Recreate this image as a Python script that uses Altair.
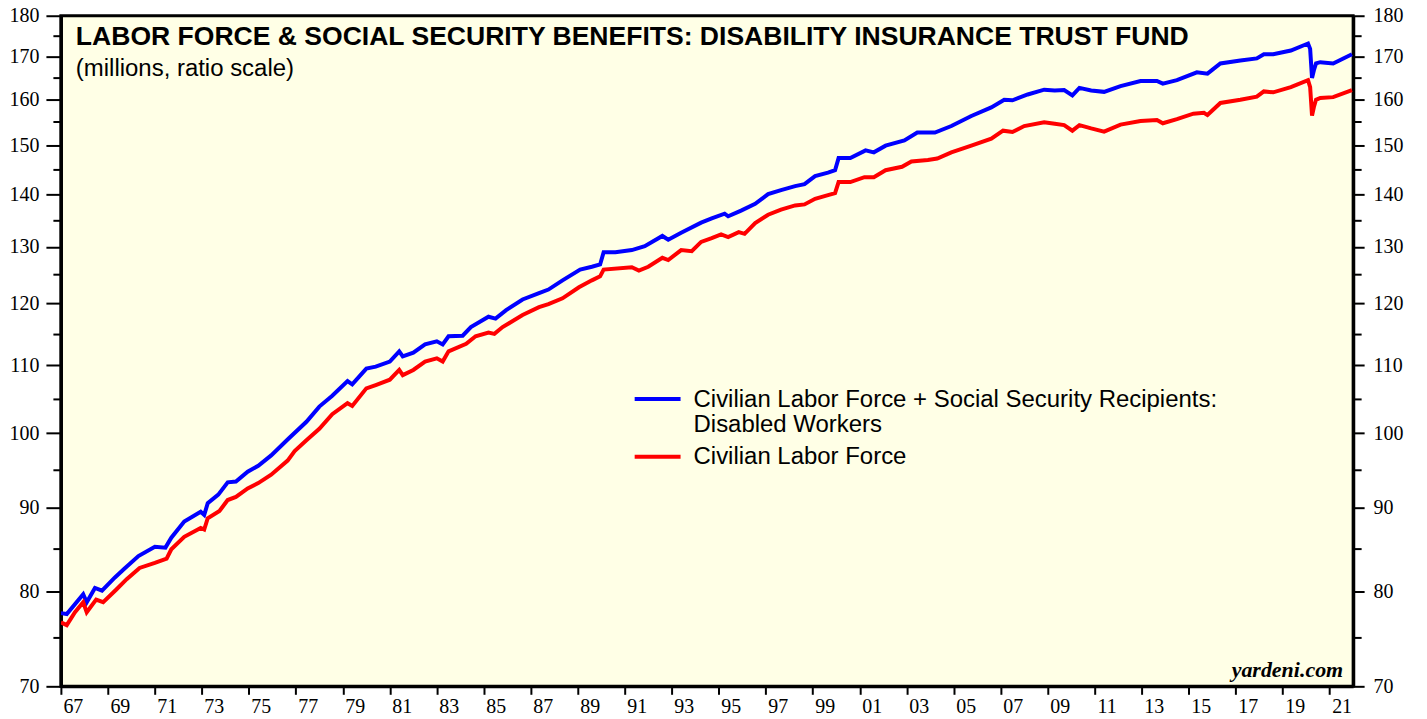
import altair as alt
import pandas as pd

# ---- data (millions) ----
red_t = [1967.0, 1967.25, 1967.6, 1967.95, 1968.1, 1968.5, 1968.8, 1969.35, 1969.8, 1970.35,
         1971.0, 1971.5, 1971.7, 1972.25, 1972.95, 1973.1, 1973.25, 1973.75, 1974.1, 1974.45,
         1974.95, 1975.4, 1975.95, 1976.65, 1976.95, 1977.45, 1978.0, 1978.55, 1979.2, 1979.4,
         1980.0, 1980.4, 1981.0, 1981.4, 1981.55, 1982.0, 1982.5, 1983.0, 1983.25, 1983.5,
         1984.25, 1984.65, 1985.2, 1985.45, 1985.8, 1986.65, 1987.35, 1987.75, 1988.35, 1989.05,
         1989.6, 1989.95, 1990.1, 1991.3, 1991.6, 1992.0, 1992.6, 1992.85, 1993.4, 1993.85,
         1994.25, 1994.7, 1995.1, 1995.4, 1995.85, 1996.1, 1996.55, 1997.1, 1997.65, 1998.25,
         1998.65, 1999.1, 1999.65, 1999.95, 2000.1, 2000.6, 2001.2, 2001.6, 2002.1, 2002.8,
         2003.2, 2003.9, 2004.3, 2004.9, 2005.75, 2006.6, 2007.1, 2007.5, 2008.0, 2008.85,
         2009.3, 2009.7, 2010.05, 2010.35, 2010.85, 2011.4, 2012.1, 2012.95, 2013.65, 2013.9,
         2014.5, 2015.2, 2015.65, 2015.8, 2016.35, 2017.2, 2017.9, 2018.2, 2018.6, 2019.35,
         2020.08, 2020.17, 2020.25, 2020.33, 2020.42, 2020.6, 2021.15, 2021.95]
red_v = [76.6, 76.3, 77.7, 78.8, 77.7, 79.1, 78.8, 80.2, 81.4, 82.7,
         83.3, 83.8, 84.9, 86.4, 87.5, 87.3, 88.7, 89.6, 91.0, 91.4,
         92.5, 93.2, 94.3, 96.2, 97.5, 99.0, 100.6, 102.7, 104.3, 103.9,
         106.5, 107.0, 107.8, 109.3, 108.5, 109.3, 110.6, 111.1, 110.6, 112.2,
         113.4, 114.6, 115.2, 115.0, 116.1, 118.1, 119.4, 119.9, 120.9, 122.8,
         124.0, 124.7, 125.9, 126.3, 125.7, 126.4, 128.0, 127.6, 129.4, 129.2,
         130.9, 131.6, 132.3, 131.8, 132.7, 132.4, 134.4, 136.0, 137.0, 137.8,
         138.0, 139.1, 139.8, 140.2, 142.4, 142.4, 143.4, 143.4, 144.8, 145.5,
         146.6, 146.9, 147.2, 148.5, 149.9, 151.4, 153.1, 152.8, 154.1, 154.9,
         154.6, 154.3, 153.1, 154.3, 153.6, 152.9, 154.4, 155.2, 155.4, 154.7,
         155.6, 156.8, 157.0, 156.5, 159.2, 159.9, 160.6, 161.8, 161.6, 162.8,
         164.4, 162.8, 156.4, 158.3, 159.9, 160.3, 160.5, 162.1]

blue_t = [1967.0, 1967.25, 1967.95, 1968.1, 1968.45, 1968.75, 1969.3, 1969.7, 1970.3, 1971.0,
          1971.45, 1971.7, 1972.25, 1972.95, 1973.1, 1973.25, 1973.7, 1974.1, 1974.45, 1974.95,
          1975.4, 1975.95, 1976.65, 1977.45, 1978.0, 1978.55, 1979.2, 1979.4, 1980.0, 1980.4,
          1981.0, 1981.4, 1981.55, 1982.0, 1982.5, 1983.0, 1983.25, 1983.5, 1984.1, 1984.45,
          1985.2, 1985.5, 1985.95, 1986.65, 1987.35, 1987.75, 1988.35, 1989.1, 1989.6, 1989.95,
          1990.1, 1990.6, 1991.3, 1991.85, 1992.6, 1992.85, 1993.4, 1994.25, 1994.7, 1995.25,
          1995.4, 1995.95, 1996.55, 1997.1, 1997.65, 1998.25, 1998.65, 1999.1, 1999.65, 1999.95,
          2000.1, 2000.6, 2001.25, 2001.6, 2002.1, 2002.9, 2003.45, 2004.2, 2004.9, 2005.75,
          2006.6, 2007.15, 2007.5, 2008.15, 2008.85, 2009.3, 2009.7, 2010.05, 2010.35, 2010.85,
          2011.4, 2012.1, 2012.95, 2013.65, 2013.9, 2014.5, 2015.35, 2015.8, 2016.35, 2017.2,
          2017.9, 2018.2, 2018.6, 2019.35, 2020.08, 2020.17, 2020.25, 2020.33, 2020.42, 2020.6,
          2021.15, 2021.95]
blue_v = [77.6, 77.5, 79.7, 78.8, 80.4, 80.1, 81.6, 82.6, 84.1, 85.2,
          85.1, 86.3, 88.3, 89.5, 89.1, 90.6, 91.7, 93.3, 93.4, 94.7,
          95.5, 96.9, 99.1, 101.6, 103.8, 105.4, 107.6, 107.1, 109.5, 109.8,
          110.6, 112.2, 111.4, 112.0, 113.3, 113.8, 113.3, 114.6, 114.7, 116.1,
          117.8, 117.5, 118.9, 120.7, 121.8, 122.4, 124.0, 125.9, 126.4, 126.8,
          129.0, 129.0, 129.4, 130.1, 132.0, 131.3, 132.6, 134.5, 135.3, 136.2,
          135.7, 136.8, 138.1, 140.0, 140.8, 141.6, 142.0, 143.6, 144.3, 144.8,
          147.3, 147.3, 148.9, 148.5, 149.9, 151.0, 152.7, 152.7, 154.1, 156.3,
          158.2, 159.9, 159.8, 161.1, 162.2, 162.0, 162.1, 160.9, 162.6, 162.0,
          161.7, 163.0, 164.2, 164.2, 163.6, 164.4, 166.2, 165.9, 168.3, 169.0,
          169.5, 170.5, 170.5, 171.4, 173.1, 171.8, 164.9, 166.7, 168.3, 168.6,
          168.3, 170.5]

BLUE_NAME = "Civilian Labor Force + Social Security Recipients: Disabled Workers"
RED_NAME = "Civilian Labor Force"
legend_lines_blue = ["Civilian Labor Force + Social Security Recipients:", "Disabled Workers"]
legend_line_red = "Civilian Labor Force"

title_text = "LABOR FORCE & SOCIAL SECURITY BENEFITS: DISABILITY INSURANCE TRUST FUND"
subtitle_text = "(millions, ratio scale)"
source_text = "yardeni.com"

year_ticks = list(range(1967, 2023))
major_y = [70, 80, 90, 100, 110, 120, 130, 140, 150, 160, 170, 180]
minor_y = [75, 85, 95, 105, 115, 125, 135, 145, 155, 165, 175]

df = pd.concat([
    pd.DataFrame({"t": blue_t, "v": blue_v, "s": BLUE_NAME}),
    pd.DataFrame({"t": red_t, "v": red_v, "s": RED_NAME}),
], ignore_index=True)

W, H = 1295, 672
SERIF = "Liberation Serif"
SANS = "Liberation Sans"

xscale = alt.Scale(domain=[1967, 2022], nice=False, zero=False)
yscale = alt.Scale(type="log", domain=[70, 180], nice=False)

x_axis = alt.Axis(
    values=year_ticks,
    labelExpr="(datum.value % 2 == 1 && datum.value < 2022) ? substring(toString(datum.value), 2, 4) : ''",
    title=None, grid=False, tickSize=8, tickWidth=2, tickColor="black",
    domainColor="black", domainWidth=3, labelFont=SERIF, labelFontSize=20,
    labelColor="black", labelOffset=12, labelPadding=2, labelOverlap=False,
    labelFlush=False, labelBound=False,
)


def yaxis(orient, values, size, labels, pad):
    kw = dict(orient=orient, values=values, title=None, grid=False, tickSize=size,
              tickWidth=2, tickColor="black", domainColor="black", domainWidth=3,
              labels=labels)
    if labels:
        kw.update(labelFont=SERIF, labelFontSize=20, labelColor="black",
                  labelPadding=pad, labelOverlap=False, labelFlush=False)
    return alt.Axis(**kw)


lines = alt.Chart(df).mark_line(strokeWidth=4, clip=True).encode(
    x=alt.X("t:Q", scale=xscale, axis=x_axis),
    y=alt.Y("v:Q", scale=yscale, axis=yaxis("left", major_y, 15, True, 7)),
    color=alt.Color("s:N", scale=alt.Scale(domain=[BLUE_NAME, RED_NAME],
                                           range=["#0000FF", "#FF0000"]), legend=None),
)


def hidden(axis):
    return alt.Chart(df).mark_line(opacity=0).encode(
        x=alt.X("t:Q", scale=xscale),
        y=alt.Y("v:Q", scale=yscale, axis=axis),
        detail="s:N",
    )


left_minor = hidden(yaxis("left", minor_y, 8, False, 0))
right_major = hidden(yaxis("right", major_y, 11, True, 9))
right_minor = hidden(yaxis("right", minor_y, 8, False, 0))

one = pd.DataFrame({"a": [0]})


def label(text, x, y, size, font=SANS, weight="normal", style="normal", align="left"):
    return alt.Chart(one).mark_text(
        text=text, font=font, fontSize=size, fontWeight=weight, fontStyle=style,
        align=align, baseline="alphabetic", color="black",
    ).encode(x=alt.value(x), y=alt.value(y))


title = label(title_text, 15, 29, 26.6, weight="bold")
subtitle = label(subtitle_text, 15, 60, 24)
source = label(source_text, 1285, 663, 22, font=SERIF, weight="bold", style="italic", align="right")

leg_blue_rule = alt.Chart(one).mark_rule(stroke="#0000FF", strokeWidth=4).encode(
    x=alt.value(575), x2=alt.value(621), y=alt.value(384))
leg_red_rule = alt.Chart(one).mark_rule(stroke="#FF0000", strokeWidth=4).encode(
    x=alt.value(575), x2=alt.value(621), y=alt.value(442))
leg_t1 = label(legend_lines_blue[0], 634, 392, 24)
leg_t2 = label(legend_lines_blue[1], 634, 417, 24)
leg_t3 = label(legend_line_red, 634, 449, 24)

chart = alt.layer(
    lines, left_minor, right_major, right_minor,
    title, subtitle, source, leg_blue_rule, leg_red_rule, leg_t1, leg_t2, leg_t3,
).resolve_axis(y="independent").properties(
    width=W, height=H,
    autosize=alt.AutoSizeParams(type="none"),
    padding={"left": 53, "top": 7, "right": 66, "bottom": 30},
).configure_view(stroke="black", strokeWidth=3, fill="#FFFFE6")

chart.save("out.html", embed_options={"renderer": "svg", "actions": False})
